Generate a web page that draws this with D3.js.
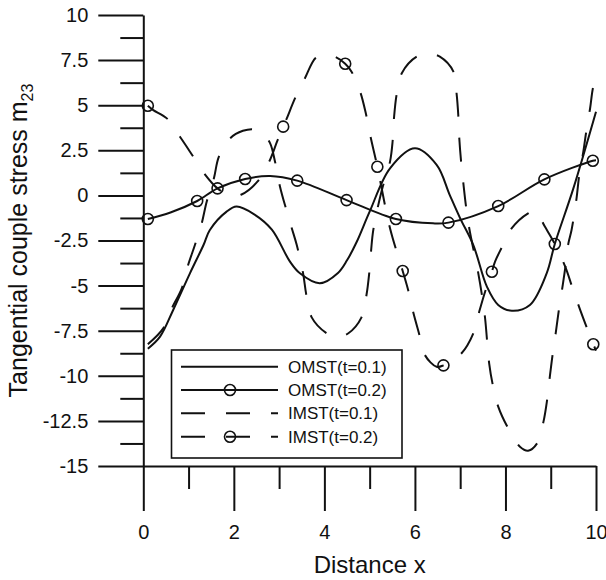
<!DOCTYPE html>
<html>
<head>
<meta charset="UTF-8">
<title>Tangential couple stress</title>
<script src="https://d3js.org/d3.v7.min.js"></script>
<style>
  body { margin: 0; background: #fff; }
  text { font-family: "Liberation Sans", Arial, sans-serif; fill: #111; }
</style>
</head>
<body>
<div id="chart"></div>
<script>
// tick values
const xMajor = [0, 2, 4, 6, 8, 10];
const xMinor = [1, 3, 5, 7, 9];
const yMajor = [-15, -12.5, -10, -7.5, -5, -2.5, 0, 2.5, 5, 7.5, 10];
const yMinor = [-13.75, -11.25, -8.75, -6.25, -3.75, -1.25, 1.25, 3.75, 6.25, 8.75];

// series as [distance, m23]
const omst01 = [[0.1,-8.5],[0.37,-7.83],[0.66,-6.35],[1.03,-4.32],[1.33,-2.75],[1.47,-1.92],[1.84,-0.9],
  [2.06,-0.62],[2.45,-1.05],[2.84,-1.9],[3.24,-3.67],[3.46,-4.32],[3.9,-4.87],[4.3,-4.3],[4.5,-3.6],
  [4.71,-2.6],[5.0,-0.9],[5.45,1.5],[6.0,2.61],[6.48,1.69],[6.77,0.02],[7.0,-1.27],[7.29,-2.75],
  [7.59,-5.06],[7.84,-6.07],[8.14,-6.39],[8.54,-6.07],[8.91,-4.32],[9.09,-2.69],[9.5,0.39],[10,4.64]];

const omst02 = [[0.1,-1.31],[0.6,-0.95],[1.19,-0.31],[1.64,0.39],[2.25,0.91],[2.8,1.08],[3.4,0.82],
  [4.49,-0.26],[5.58,-1.31],[6.4,-1.55],[6.74,-1.51],[7.84,-0.59],[8.86,0.89],[9.93,1.92],[10,1.95]];
const omst02Marks = [[0.1,-1.31],[1.19,-0.31],[2.25,0.91],[3.4,0.82],[4.49,-0.26],[5.58,-1.31],
  [6.74,-1.51],[7.84,-0.59],[8.86,0.89],[9.93,1.92]];

const imst01 = [[0.1,-8.25],[0.44,-7.37],[0.63,-6.26],[0.85,-5.15],[0.99,-3.86],[1.14,-2.75],[1.29,-1.55],
  [1.4,-0.35],[1.56,0.95],[1.67,2.15],[1.92,3.17],[2.2,3.58],[2.45,3.66],[2.65,3.4],[2.8,2.9],[2.91,1.87],
  [3.02,0.48],[3.15,-0.72],[3.28,-1.82],[3.39,-2.75],[3.53,-4.32],[3.6,-5.5],[3.72,-6.76],[4.05,-7.64],
  [4.28,-7.85],[4.53,-7.64],[4.82,-6.76],[4.93,-5.52],[4.99,-4.32],[5.03,-3.12],[5.08,-1.92],[5.27,0.3],
  [5.45,1.87],[5.51,3.07],[5.54,4.36],[5.6,5.66],[5.71,6.77],[6.04,7.69],[6.3,7.85],[6.55,7.69],
  [6.85,6.86],[6.92,5.66],[6.96,4.36],[6.98,3.17],[7.02,1.87],[7.07,0.67],[7.13,-0.63],[7.2,-1.82],
  [7.4,-4.32],[7.48,-5.52],[7.55,-6.81],[7.64,-9.31],[7.72,-10.51],[7.84,-11.71],[8.06,-12.91],
  [8.32,-13.93],[8.5,-14.15],[8.7,-13.74],[8.84,-12.54],[8.92,-11.34],[8.98,-10.05],[9.04,-8.85],
  [9.11,-7.64],[9.18,-6.35],[9.26,-5.06],[9.33,-3.86],[9.39,-2.66],[9.46,-1.92],[9.57,-0.16],
  [9.63,1.13],[9.72,2.42],[9.79,3.63],[9.87,4.83],[9.94,6.03],[10,6.4]];

const imst02 = [[0.1,4.97],[0.22,4.73],[0.52,4.27],[0.81,3.25],[1.09,2.2],[1.36,1.17],[1.64,0.39],
  [1.95,-0.05],[2.17,0.05],[2.52,0.76],[2.78,1.87],[2.96,3.02],[3.09,3.81],[3.17,4.27],[3.35,5.38],
  [3.57,6.49],[3.81,7.63],[4.0,7.8],[4.23,7.69],[4.46,7.3],[4.6,6.86],[4.79,5.75],[4.92,4.5],
  [5.02,3.25],[5.17,1.59],[5.45,-1.82],[5.73,-4.19],[5.85,-5.24],[5.96,-6.45],[6.1,-7.74],
  [6.22,-8.85],[6.48,-9.5],[6.63,-9.42],[7.03,-8.75],[7.29,-7.65],[7.42,-6.45],[7.55,-5.34],
  [7.7,-4.23],[7.77,-3.67],[7.92,-2.88],[8.14,-1.82],[8.5,-1.0],[8.66,-0.85],[8.87,-1.73],
  [9.09,-2.69],[9.32,-3.95],[9.49,-5.2],[9.65,-6.35],[9.83,-7.55],[9.94,-8.25],[10,-8.6]];
const imst02Marks = [[0.1,4.97],[1.64,0.39],[3.09,3.81],[4.46,7.3],[5.17,1.59],[5.73,-4.19],
  [6.63,-9.42],[7.7,-4.23],[9.09,-2.69],[9.94,-8.25]];

const seriesNames = ["OMST(t=0.1)", "OMST(t=0.2)", "IMST(t=0.1)", "IMST(t=0.2)"];

const width = 606, height = 580;
const margin = {top: 15, right: 10, bottom: 114, left: 143.3};
const dash = "24,21";

const x = d3.scaleLinear().domain([0, 10]).range([margin.left, 596]);
const y = d3.scaleLinear().domain([-15, 10]).range([height - margin.bottom, margin.top]);

const svg = d3.select("#chart").append("svg")
    .attr("width", width)
    .attr("height", height);

// axes
const fmt = d => String(d);
const axisStyle = g => {
  g.selectAll("path, line").attr("stroke", "#111").attr("stroke-width", 2);
  g.selectAll("text").attr("font-size", 20).attr("fill", "#111")
    .attr("font-family", "'Liberation Sans', Arial, sans-serif");
};

svg.append("g")
    .attr("transform", `translate(0,${y(-15)})`)
    .call(d3.axisBottom(x).tickValues(xMinor).tickSize(23).tickSizeOuter(0).tickFormat(""))
    .call(g => g.select(".domain").remove())
    .call(axisStyle);
svg.append("g")
    .attr("transform", `translate(0,${y(-15)})`)
    .call(d3.axisBottom(x).tickValues(xMajor).tickSize(45).tickSizeOuter(0).tickPadding(14).tickFormat(fmt))
    .call(axisStyle);

svg.append("g")
    .attr("transform", `translate(${x(0)},0)`)
    .call(d3.axisLeft(y).tickValues(yMinor).tickSize(23).tickSizeOuter(0).tickFormat(""))
    .call(g => g.select(".domain").remove())
    .call(axisStyle);
svg.append("g")
    .attr("transform", `translate(${x(0)},0)`)
    .call(d3.axisLeft(y).tickValues(yMajor).tickSize(45).tickSizeOuter(0).tickPadding(10).tickFormat(fmt))
    .call(axisStyle);

// axis titles
svg.append("text")
    .attr("x", (x(0) + x(10)) / 2)
    .attr("y", 573)
    .attr("text-anchor", "middle")
    .attr("font-size", 24)
    .text("Distance x");

const yTitle = svg.append("text")
    .attr("transform", `translate(27,${(y(10) + y(-15)) / 2}) rotate(-90)`)
    .attr("text-anchor", "middle")
    .attr("font-size", 25);
yTitle.append("tspan").text("Tangential couple stress m");
yTitle.append("tspan").attr("font-size", 16).attr("dy", 6).text("23");

// curves
const line = d3.line()
    .x(d => x(d[0]))
    .y(d => y(d[1]))
    .curve(d3.curveCatmullRom.alpha(0.5));

const curves = [
  {data: omst01, dash: null, marks: null},
  {data: omst02, dash: null, marks: omst02Marks},
  {data: imst01, dash: dash, marks: null},
  {data: imst02, dash: dash, marks: imst02Marks}
];

curves.forEach(c => {
  svg.append("path")
      .attr("d", line(c.data))
      .attr("fill", "none")
      .attr("stroke", "#111")
      .attr("stroke-width", 2)
      .attr("stroke-dasharray", c.dash);
  if (c.marks) {
    svg.append("g").selectAll("circle")
      .data(c.marks)
      .join("circle")
        .attr("cx", d => x(d[0]))
        .attr("cy", d => y(d[1]))
        .attr("r", 5.5)
        .attr("fill", "none")
        .attr("stroke", "#111")
        .attr("stroke-width", 1.6);
  }
});

// legend
const legend = svg.append("g");
legend.append("rect")
    .attr("x", 171.5).attr("y", 350)
    .attr("width", 230.5).attr("height", 108)
    .attr("fill", "#fff")
    .attr("stroke", "#111")
    .attr("stroke-width", 1.6);

const rowY = d3.scaleLinear().domain([0, 3]).range([366.7, 436.7]);
curves.forEach((c, i) => {
  const yy = rowY(i);
  legend.append("line")
      .attr("x1", 181).attr("x2", 278)
      .attr("y1", yy).attr("y2", yy)
      .attr("stroke", "#111")
      .attr("stroke-width", 2)
      .attr("stroke-dasharray", c.dash);
  if (c.marks) {
    legend.append("circle")
        .attr("cx", 230).attr("cy", yy).attr("r", 5.5)
        .attr("fill", "none").attr("stroke", "#111").attr("stroke-width", 1.6);
  }
  legend.append("text")
      .attr("x", 288).attr("y", yy)
      .attr("dy", "0.36em")
      .attr("font-size", 17)
      .text(seriesNames[i]);
});
</script>
</body>
</html>
